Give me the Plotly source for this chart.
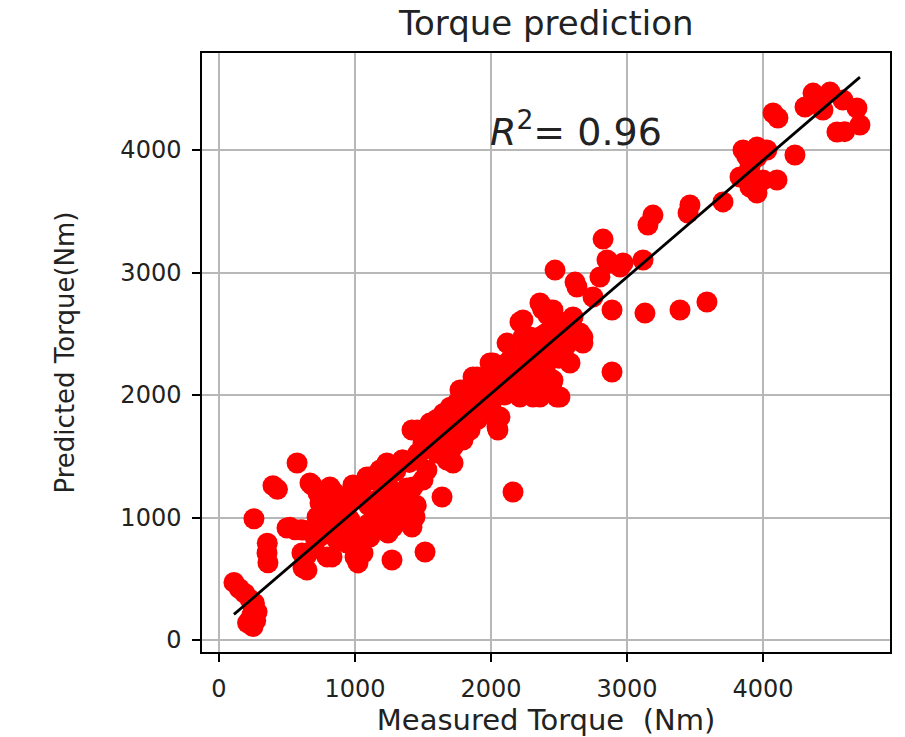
import plotly.graph_objects as go

# measured vs predicted torque (Nm), grouped by region
low_measured = [110,150,190,230,250,240,220,270,280,260,210,250,574,397,430,257,355,353,360,500,522,610,618,647,684,669,618,560,600]
low_predicted = [470,420,380,330,270,200,150,160,230,300,140,110,1445,1260,1230,990,790,710,630,914,920,710,590,571,1265,1282,898,900,900]

mid_measured = [728,743,816,831,801,868,757,721,853,816, 706,904,868,831,794,1000,1022,1015,985,1096,
                1110,1221,1235,1346,1353,1463,1272,1515,1640,1147, 1184,1316,1353,1441,1426,1419,1279,1243,1051,1110,
                1059,1382,1426,1147,1088,949,904,963,1162,1529, 1603,1500,1404,1331,1404,1353,1184,1037,941,868,
                743,1235,1184,1000,1050,1100,1200,1250,1300,1450, 900,850,700,650,800,950,1000,1100,1200,1300,
                1250,1050,750,850,1050,900,950,800,850,750]
mid_predicted = [1200,1167,1249,1224,1086,1118,955,1004,922,955, 841,816,816,678,678,678,629,653,1265,1322,
                 1331,1412,1412,1469,1469,1526,653,718,1167,980, 1037,1037,1086,1004,1004,922,922,873,816,841,
                 710,1241,1249,1306,1331,841,1037,980,1143,1388, 1526,1306,1224,1086,1061,980,955,898,792,1004,
                 1118,1445,1388,850,900,950,1000,1050,1000,1100, 1150,1200,750,700,1150,1100,1150,1100,1150,1200,
                 1250,1250,1200,850,800,950,900,950,1000,850]

upper_mid_measured = [1456,1419,1574,1551,1426,1500,1551,1625,1625,1676, 1721,1676,1750,1794,1772,1897,1868,1897,2015,1993,
                      2015,2140,2118,2265,2360,2654,2213,2235,2066,2051, 2044,2213,2360,2507,2485,2309,2456,2265,2162,2338,
                      1846,1794,1750,1721,1868,1772,2581,2507,2676,2654, 2162,
                      1700,1750,1800,1850,1800,1900,1950,2000,1950,2050, 2100,2150,2100,2200,2250,2300,2350,2400,2450,2500,
                      2500,2550,2450,2400,2350,2300,2250,2200,2150,2100, 2300,2400,2500,2350,2450,2550,2600,1600,1650,1550,
                      1500,1450,1400,1300,1500,1600,1650,1700,1800,1850, 2000,2050,1900,2000,1950]
upper_mid_predicted = [1714,1714,1771,1771,1469,1608,1714,1796,1551,1494, 1445,1469,1935,2041,2041,2147,2147,2122,2261,2261,
                       2229,2286,2424,2449,2473,2473,2596,2473,1820,1714, 1739,1984,1984,1984,1984,1984,2122,2098,2147,2204,
                       1714,1633,1690,1576,1820,1714,2261,2367,2424,2506, 1208,
                       1750,1800,1850,1900,1950,1950,2000,2050,2100,2100, 2150,2200,2250,2300,2350,2400,2450,2500,2550,2600,
                       2450,2400,2350,2300,2250,2200,2150,2100,2050,2000, 2100,2200,2300,2050,2100,2500,2550,1650,1700,1600,
                       1550,1500,1450,1380,1700,1800,1850,1900,2000,2050, 2150,2200,1800,1900,1850]

upper_measured = [2890,3132,3390,3588,2824,2471,2632,2618,2853,2949, 3118,2801,2750,2890,2360,2456,2603,2235,2676,2581,
                  2287,3154,3191,3449,3463,2875,2971,2434,2380,2420]
upper_predicted = [2188,2669,2694,2759,3273,3020,2882,2922,3102,3045, 3102,2963,2800,2694,2751,2694,2637,2612,2473,2555,
                   2473,3388,3469,3486,3551,3078,3078,2694,2700,2650]

top_measured = [4074,4110,4368,4493,4588,4691,4713,4544,4309,4441, 4235,3853,3956,4029,3831,3904,3956,4103,4000,3904,
                3956,3706,4600,4400,3880,3920]
top_predicted = [4302,4261,4465,4473,4408,4343,4204,4147,4351,4327, 3959,4000,4024,4000,3780,3698,3649,3755,3755,3861,
                 3943,3576,4150,4400,3950,3760]

# fitted line
fit_slope = 0.953
fit_intercept = 104
r2 = 0.96

measured = low_measured + mid_measured + upper_mid_measured + upper_measured + top_measured
predicted = low_predicted + mid_predicted + upper_mid_predicted + upper_predicted + top_predicted

x_fit = [min(measured), max(measured)]
y_fit = [fit_slope*v + fit_intercept for v in x_fit]

fig = go.Figure()
fig.add_trace(go.Scatter(x=measured, y=predicted, mode='markers',
                         marker=dict(color='#ff0000', size=21, line=dict(width=0)), showlegend=False))
fig.add_trace(go.Scatter(x=x_fit, y=y_fit, mode='lines', line=dict(color='black', width=2.8), showlegend=False))

fig.add_annotation(x=1980, y=3950, xref='x', yref='y', xanchor='left', yanchor='bottom',
                   text='<i>R</i><sup>2</sup>= {:.2f}'.format(r2), showarrow=False,
                   font=dict(size=38, color='#222222'))

# title as a paper annotation so it sits just above the plot box
fig.add_annotation(x=0.5, y=1, xref='paper', yref='paper', xanchor='center', yanchor='bottom', yshift=8,
                   text='Torque prediction', showarrow=False, font=dict(size=34, color='#222222'))

axis_style = dict(showgrid=True, gridcolor='#b8b8b8', gridwidth=1.5, zeroline=False,
                  showline=True, linecolor='black', linewidth=1.5, mirror=True,
                  ticks='outside', ticklen=8, tickcolor='black', tickwidth=1.5,
                  ticklabelstandoff=6,
                  tickfont=dict(size=24, color='#222222'))

# page body adds an 8px offset, so margins are shifted to land the plot box where the reference has it
fig.update_layout(
    width=905, height=737,
    margin=dict(l=194, r=23, t=45, b=93),
    paper_bgcolor='white', plot_bgcolor='white',
    font=dict(family='DejaVu Sans', color='#222222'),
)
fig.update_xaxes(range=[-125, 4934], tickvals=[0, 1000, 2000, 3000, 4000],
                 title=dict(text='Measured Torque  (Nm)', font=dict(size=29, color='#222222'), standoff=2),
                 **axis_style)
fig.update_yaxes(range=[-98, 4792], tickvals=[0, 1000, 2000, 3000, 4000],
                 title=dict(text='Predicted Torque(Nm)', font=dict(size=26, color='#222222'), standoff=38),
                 **axis_style)

fig.write_html("out.html")
